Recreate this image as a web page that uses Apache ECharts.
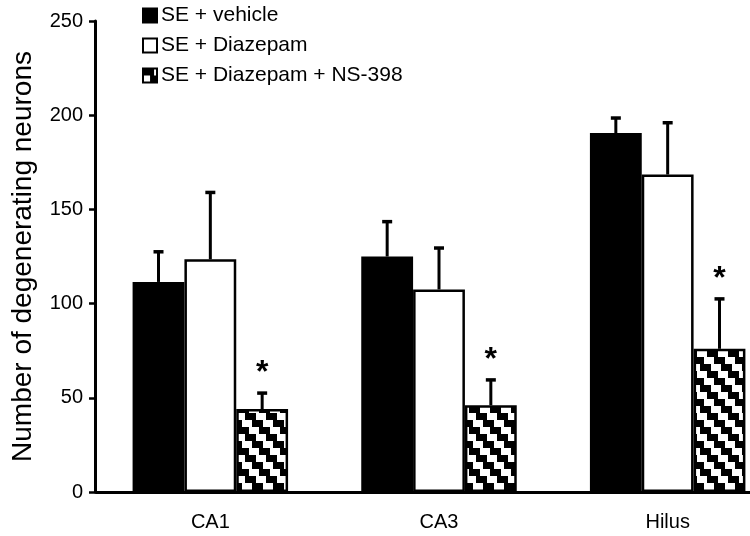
<!DOCTYPE html>
<html><head><meta charset="utf-8">
<script src="https://cdn.jsdelivr.net/npm/echarts@6/dist/echarts.min.js"></script>
<style>html,body{margin:0;padding:0;background:#fff;overflow:hidden}#c{width:750px;height:536px}</style>
</head><body><div id="c"></div>
<script>
const categories = ['CA1', 'CA3', 'Hilus'];
const seriesNames = ['SE + vehicle', 'SE + Diazepam', 'SE + Diazepam + NS-398'];
const vehicle = [111.5, 125, 190.5];
const diazepam = [123.5, 107.5, 168.5];
const diazepamNS = [44, 46, 76];
const vehicleErr = [16, 18.5, 8];
const diazepamErr = [35.5, 22, 27.5];
const diazepamNSErr = [8.5, 13.5, 26.5];
const significant = [true, true, true];
const yTicks = [0, 50, 100, 150, 200, 250];

const FONT = '"Liberation Sans", Arial, sans-serif';
// hatch tile (staircase diagonal, 45 degrees)
const TW = 21, TH = 21, RH = 7;
const tile = document.createElement('canvas');
tile.width = TW; tile.height = TH;
(function(){
  const g = tile.getContext('2d');
  g.fillStyle = '#fff'; g.fillRect(0,0,TW,TH);
  g.fillStyle = '#000';
  for (let r = 0; r < TH / RH; r++) {
    const x0 = r * RH;
    for (let k = -1; k <= 1; k++) g.fillRect(x0 + k*TW, r*RH, 11, RH);
  }
})();
const hatch = {image: tile, repeat: 'repeat'};

const values = [vehicle, diazepam, diazepamNS];
const errs = [vehicleErr, diazepamErr, diazepamNSErr];
const fills = ['#000', '#fff', hatch];
const GAP = 0.32;

const chart = echarts.init(document.getElementById('c'));
const series = [];
values.forEach((v, i) => {
  series.push({
    name: seriesNames[i], type: 'bar', data: v,
    barGap: '0%', barCategoryGap: (GAP*100) + '%',
    itemStyle: {color: fills[i], borderColor: '#000', borderWidth: 2.5},
    z: 2
  });
});
values.forEach((v, i) => {
  series.push({
    type: 'custom', silent: true, z: 3, clip: false,
    data: v.map((val, j) => [j, val, errs[i][j], (i === 2 && significant[j]) ? 1 : 0]),
    renderItem: function(params, api) {
      const j = api.value(0), val = api.value(1), e = api.value(2), sig = api.value(3);
      const band = api.size([1, 0])[0];
      const bw = band * (1 - GAP) / 3;
      const base = api.coord([j, val]);
      const top = api.coord([j, val + e]);
      const x = base[0] + (i - 1) * bw;
      const children = [
        {type: 'line', shape: {x1: x, y1: base[1], x2: x, y2: top[1]}, style: {stroke: '#000', lineWidth: 3}},
        {type: 'line', shape: {x1: x - 5, y1: top[1], x2: x + 5, y2: top[1]}, style: {stroke: '#000', lineWidth: 3.5}}
      ];
      if (sig) children.push({type: 'text', style: {x: x, y: top[1] - 20, text: '*', fill: '#000', font: 'bold 32px ' + FONT, align: 'center', verticalAlign: 'middle'}});
      return {type: 'group', children: children};
    }
  });
});

chart.setOption({
  animation: false,
  grid: {left: 96, right: -32, top: 21, bottom: 44, containLabel: false, outerBoundsMode: 'none'},
  legend: {
    data: seriesNames, orient: 'vertical', left: 137, top: 0, itemGap: 9,
    itemWidth: 14, itemHeight: 14, icon: 'rect',
    textStyle: {fontFamily: FONT, fontSize: 21, color: '#000', padding: [0,0,0,-1]},
    itemStyle: {borderColor: '#000', borderWidth: 2}
  },
  xAxis: {
    type: 'category', data: categories,
    axisLine: {lineStyle: {color: '#000', width: 3}},
    axisTick: {show: false},
    axisLabel: {fontFamily: FONT, fontSize: 20, color: '#000', margin: 20}
  },
  yAxis: {
    type: 'value', min: yTicks[0], max: yTicks[yTicks.length-1], interval: 50, offset: 1,
    name: 'Number of degenerating neurons', nameLocation: 'middle', nameGap: 58,
    nameTextStyle: {fontFamily: FONT, fontSize: 28, color: '#000'},
    axisLine: {show: true, lineStyle: {color: '#000', width: 3}},
    axisTick: {show: true, length: 6, lineStyle: {color: '#000', width: 2.5}},
    splitLine: {show: false},
    axisLabel: {fontFamily: FONT, fontSize: 20, color: '#000', margin: 12}
  },
  series: series
});
</script></body></html>
